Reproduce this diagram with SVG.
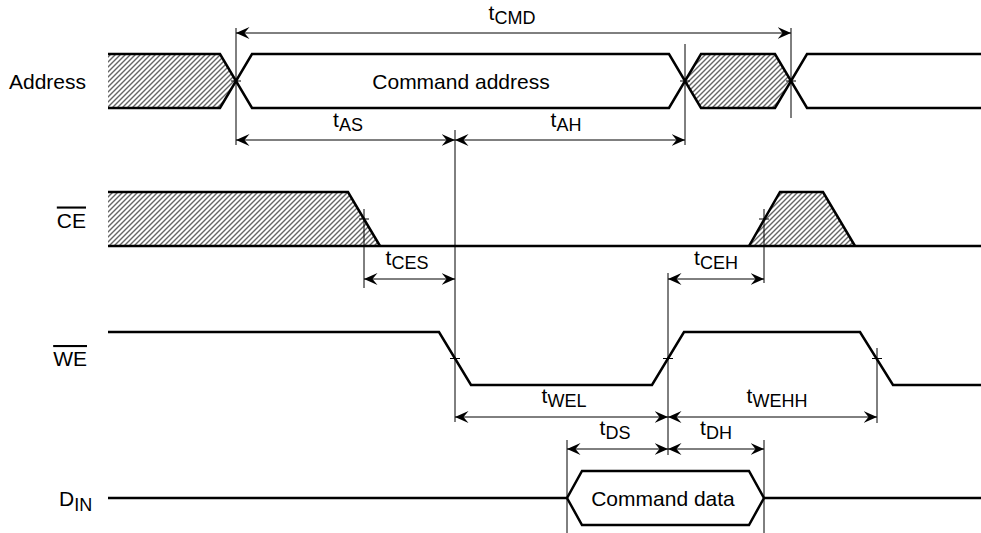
<svg xmlns="http://www.w3.org/2000/svg" width="981" height="533" viewBox="0 0 981 533">
<style>
.sig{fill:none;stroke:#000;stroke-width:2.5;stroke-linejoin:miter}
.hatch{fill:url(#hatch);stroke:none}
.dim{fill:none;stroke:#000;stroke-width:1}
.arr{fill:none;stroke:#000;stroke-width:1;marker-start:url(#ah);marker-end:url(#ah)}
.lbl{font-family:"Liberation Sans",Arial,sans-serif;font-size:21px;fill:#000}
.sub{font-size:18px}
.ov{text-decoration:overline}
</style>
<defs>
<pattern id="hatch" patternUnits="userSpaceOnUse" width="5" height="5">
<rect width="5" height="5" fill="#fff"/>
<path d="M-1,1 L1,-1 M0,5 L5,0 M4,6 L6,4" stroke="#666" stroke-width="1.4"/>
</pattern>
<marker id="ah" markerUnits="userSpaceOnUse" markerWidth="15" markerHeight="14" refX="13.5" refY="0" viewBox="0 -7 15 14" orient="auto-start-reverse">
<path d="M0,-6 L13.5,0 L0,6 L5,0 z" fill="#000"/>
</marker>
</defs>
<rect width="981" height="533" fill="#fff"/>

<g id="address">
<polygon class="hatch" points="108,54 220,54 236,81 220,108 108,108"/>
<polygon class="hatch" points="685,81 701,54 775,54 791,81 775,108 701,108"/>
<path class="sig" d="M108,54 H220 L252,108 H669 L701,54 H775 L807,108 H981"/>
<path class="sig" d="M108,108 H220 L252,54 H669 L701,108 H775 L807,54 H981"/>
<text class="lbl" x="86" y="88.5" text-anchor="end">Address</text>
<text class="lbl" x="461" y="88.5" text-anchor="middle">Command address</text>
</g>

<g id="ce">
<polygon class="hatch" points="108,192 348,192 380,246 108,246"/>
<polygon class="hatch" points="749,246 780,192 823,192 855,246"/>
<path class="sig" d="M108,192 H348 L380,246"/>
<path class="sig" d="M108,246 H981"/>
<path class="sig" d="M749,246 L780,192 H823 L855,246"/>
<text class="lbl ov" x="86" y="227.5" text-anchor="end">CE</text>
</g>

<g id="we">
<path class="sig" d="M108,332 H439 L471,385 H652 L684,332 H860 L893,385 H981"/>
<text class="lbl ov" x="87" y="366" text-anchor="end">WE</text>
</g>

<g id="din">
<path class="sig" d="M108,498 H567 L582,471 H749 L764,498 H981"/>
<path class="sig" d="M567,498 L582,525 H749 L764,498"/>
<text class="lbl" x="59" y="505.5">D<tspan class="sub" dy="5">IN</tspan></text>
<text class="lbl" x="663" y="505.5" text-anchor="middle">Command data</text>
</g>

<g id="connectors">
<path class="dim" d="M236,28 V145 M685,44 V145 M791,28 V118 M455,130 V422 M364,209 V288 M764,209 V283 M668,273 V455 M877,348 V423 M567,440 V533 M764,440 V533"/>
<path class="dim" d="M231,81 H241 M680,81 H690 M786,81 H796 M359,219 H369 M759,219 H769 M450,358.5 H460 M663,358.5 H673 M872,358.5 H882"/>
<line class="arr" x1="236" y1="33" x2="791" y2="33"/>
<line class="arr" x1="236" y1="140" x2="455" y2="140"/>
<line class="arr" x1="455" y1="140" x2="685" y2="140"/>
<line class="arr" x1="364" y1="279" x2="455" y2="279"/>
<line class="arr" x1="668" y1="279" x2="764" y2="279"/>
<line class="arr" x1="455" y1="417" x2="668" y2="417"/>
<line class="arr" x1="668" y1="417" x2="877" y2="417"/>
<line class="arr" x1="567" y1="449" x2="668" y2="449"/>
<line class="arr" x1="668" y1="449" x2="764" y2="449"/>
</g>

<g id="timing-labels" class="lbl" text-anchor="middle">
<text x="512" y="20">t<tspan class="sub" dy="4">CMD</tspan></text>
<text x="348" y="127">t<tspan class="sub" dy="4">AS</tspan></text>
<text x="566" y="127">t<tspan class="sub" dy="4">AH</tspan></text>
<text x="407" y="265">t<tspan class="sub" dy="4">CES</tspan></text>
<text x="716" y="265">t<tspan class="sub" dy="4">CEH</tspan></text>
<text x="564" y="403">t<tspan class="sub" dy="4">WEL</tspan></text>
<text x="777" y="403">t<tspan class="sub" dy="4">WEHH</tspan></text>
<text x="615" y="435">t<tspan class="sub" dy="4">DS</tspan></text>
<text x="716" y="435">t<tspan class="sub" dy="4">DH</tspan></text>
</g>
</svg>
